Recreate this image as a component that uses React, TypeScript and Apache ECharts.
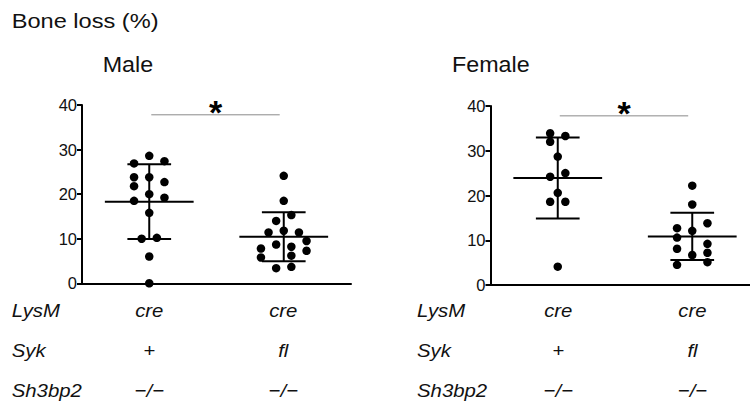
import React, { useEffect, useRef } from "react";
import * as echarts from "echarts";

// Bone loss (%) per animal, with the horizontal slot each dot occupies in the swarm
const maleSykWT = [28.6, 27.4, 26.9, 23.8, 23.8, 22.7, 21.8, 20.0, 19.2, 18.5, 15.8, 10.2, 10.0, 6.0, 0];
const maleSykWTSlot = [0, 2, -2, -2, 0, 2, -2, 0, 2, -2, 0, 1, -1, 0, 0];
const maleSykFl = [24.1, 18.5, 15.3, 14.0, 11.8, 11.4, 11.4, 9.5, 8.7, 8.2, 7.8, 7.3, 6.2, 5.8, 3.7, 3.4];
const maleSykFlSlot = [0, 0, 1, -1, 0, -2, 2, 3, -1, 1, -3, 3, 1, -3, 1, -1];

const femaleSykWT = [33.9, 33.3, 32.0, 28.7, 25.0, 24.2, 20.6, 18.6, 18.6, 4.1];
const femaleSykWTSlot = [-1, 1, -1, 0, 1, -1, 0, -1, 1, 0];
const femaleSykFl = [22.2, 18.0, 13.8, 12.7, 12.1, 10.6, 9.2, 8.1, 7.2, 6.7, 5.1, 4.5];
const femaleSykFlSlot = [0, 0, 2, -2, 0, -2, 2, -2, 2, 0, 2, -2];

const yTicks = [0, 10, 20, 30, 40];
const panelTitles = ["Male", "Female"];
const rowNames = ["LysM", "Syk", "Sh3bp2"];
const genotypeWT = ["cre", "+", "\u2212/\u2212"];
const genotypeFl = ["cre", "fl", "\u2212/\u2212"];

const GROUP_X = [1, 3];
const SLOT_W = 0.113;
const MEAN_HALF = 0.66;
const CAP_HALF = 0.325;
const FONT = "'Liberation Sans', Arial, Helvetica, sans-serif";

const mean = (a: number[]) => a.reduce((s, v) => s + v, 0) / a.length;
const sd = (a: number[]) => {
  const m = mean(a);
  return Math.sqrt(a.reduce((s, v) => s + (v - m) * (v - m), 0) / (a.length - 1));
};

const dots = (vals: number[], slots: number[], gx: number) =>
  vals.map((v, i) => [gx + slots[i] * SLOT_W, v]);

function errorBars(idx: number, groups: number[][]) {
  return {
    type: "custom",
    xAxisIndex: idx,
    yAxisIndex: idx,
    clip: false,
    z: 3,
    data: groups.map((g, i) => [GROUP_X[i], mean(g), sd(g)]),
    renderItem: (_p: any, api: any) => {
      const x = api.value(0);
      const m = api.value(1);
      const s = api.value(2);
      const c = api.coord([x, m]);
      const t = api.coord([x, m + s]);
      const b = api.coord([x, m - s]);
      const half = api.size([MEAN_HALF, 0])[0];
      const cap = api.size([CAP_HALF, 0])[0];
      const st = { stroke: "#000", lineWidth: 2 };
      return {
        type: "group",
        children: [
          { type: "line", shape: { x1: c[0] - half, y1: c[1], x2: c[0] + half, y2: c[1] }, style: st },
          { type: "line", shape: { x1: t[0] - cap, y1: t[1], x2: t[0] + cap, y2: t[1] }, style: st },
          { type: "line", shape: { x1: b[0] - cap, y1: b[1], x2: b[0] + cap, y2: b[1] }, style: st },
          { type: "line", shape: { x1: t[0], y1: t[1], x2: b[0], y2: b[1] }, style: st },
        ],
      };
    },
  };
}

function significance(idx: number) {
  return {
    type: "custom",
    xAxisIndex: idx,
    yAxisIndex: idx,
    clip: false,
    data: [[1.03, 2.94, 37.8]],
    renderItem: (_p: any, api: any) => {
      const a = api.coord([api.value(0), api.value(2)]);
      const b = api.coord([api.value(1), api.value(2)]);
      return {
        type: "group",
        children: [
          { type: "line", shape: { x1: a[0], y1: a[1], x2: b[0], y2: b[1] }, style: { stroke: "#8a8a8a", lineWidth: 1 } },
          {
            type: "text",
            x: (a[0] + b[0]) / 2,
            y: a[1] - 3,
            style: { text: "*", fontSize: 34, fontWeight: "bold", fontFamily: FONT, fill: "#000", align: "center", verticalAlign: "middle" },
          },
        ],
      };
    },
  };
}

function scatter(idx: number, data: number[][]) {
  return {
    type: "scatter",
    xAxisIndex: idx,
    yAxisIndex: idx,
    symbol: "circle",
    symbolSize: 8.5,
    itemStyle: { color: "#000", opacity: 1 },
    z: 4,
    data,
  };
}

const yAxisBase = (idx: number) => ({
  type: "value",
  gridIndex: idx,
  min: yTicks[0],
  max: yTicks[yTicks.length - 1],
  interval: 10,
  axisLine: { show: true, lineStyle: { color: "#000", width: 2 } },
  axisTick: { show: true, length: 5, lineStyle: { color: "#000", width: 2 } },
  axisLabel: { fontSize: 16.5, color: "#111", fontFamily: FONT, margin: 5 },
  splitLine: { show: false },
});

const xAxisBase = (idx: number, max: number) => ({
  type: "value",
  gridIndex: idx,
  min: 0,
  max,
  axisLine: { show: true, onZero: true, lineStyle: { color: "#000", width: 2 } },
  axisTick: { show: false },
  axisLabel: { show: false },
  splitLine: { show: false },
});

function label(text: string, x: number, y: number, size: number, sx: number, italic: boolean, align = "left") {
  return {
    type: "text",
    x,
    y,
    scaleX: sx,
    style: {
      text,
      fontSize: size,
      fontFamily: FONT,
      fontStyle: italic ? "italic" : "normal",
      fill: "#111",
      align,
      verticalAlign: "middle",
    },
  };
}

export default function App() {
  const ref = useRef<HTMLDivElement>(null);
  useEffect(() => {
    if (!ref.current) return;
    const chart = echarts.init(ref.current, null, { renderer: "svg" });

    const rowsY = [310, 350, 390];
    const graphics: any[] = [label("Bone loss (%)", 11.7, 21.2, 20, 1.18, false)];
    graphics.push(label(panelTitles[0], 102.7, 64.7, 22, 1.06, false));
    graphics.push(label(panelTitles[1], 452, 64.7, 22, 1.06, false));
    const panelX = [
      { name: 11.7, g: [149.3, 283.3] },
      { name: 417, g: [558.3, 692.5] },
    ];
    panelX.forEach((p) => {
      rowNames.forEach((r, i) => {
        graphics.push(label(r, p.name, rowsY[i], 18.5, 1.1, true));
        graphics.push(label(genotypeWT[i], p.g[0], rowsY[i], 18.5, 1.1, true, "center"));
        graphics.push(label(genotypeFl[i], p.g[1], rowsY[i], 18.5, 1.1, true, "center"));
      });
    });

    chart.setOption({
      animation: false,
      backgroundColor: "#fff",
      grid: [
        { left: 82, top: 105, width: 269, height: 178.3 },
        { left: 490.5, top: 106, width: 259.5, height: 179 },
      ],
      xAxis: [xAxisBase(0, 4), xAxisBase(1, 259.5 / 67.25)],
      yAxis: [yAxisBase(0), yAxisBase(1)],
      series: [
        errorBars(0, [maleSykWT, maleSykFl]),
        errorBars(1, [femaleSykWT, femaleSykFl]),
        scatter(0, [...dots(maleSykWT, maleSykWTSlot, GROUP_X[0]), ...dots(maleSykFl, maleSykFlSlot, GROUP_X[1])]),
        scatter(1, [...dots(femaleSykWT, femaleSykWTSlot, GROUP_X[0]), ...dots(femaleSykFl, femaleSykFlSlot, GROUP_X[1])]),
        significance(0),
        significance(1),
      ],
      graphic: graphics,
    });
    return () => chart.dispose();
  }, []);
  return <div ref={ref} style={{ position: "absolute", left: 0, top: 0, width: 750, height: 407 }} />;
}
